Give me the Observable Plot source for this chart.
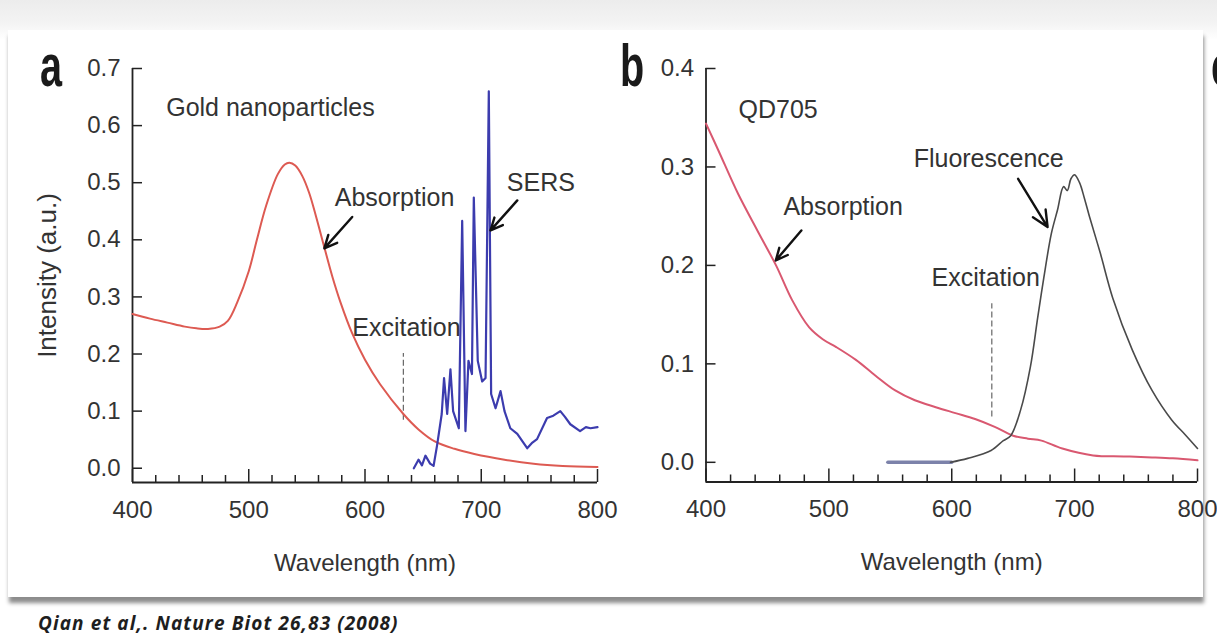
<!DOCTYPE html>
<html>
<head>
<meta charset="utf-8">
<script src="https://cdn.jsdelivr.net/npm/d3@7"></script>
<script src="https://cdn.jsdelivr.net/npm/@observablehq/plot@0.6"></script>
<style>
html,body{margin:0;padding:0;}
body{width:1217px;height:637px;position:relative;overflow:hidden;background:linear-gradient(to bottom,#ececec 0px,#f3f3f3 22px,#ffffff 40px);font-family:"Liberation Sans",Arial,sans-serif;}
#card{position:absolute;left:8px;top:30px;width:1195px;height:567px;background:#fff;box-shadow:1px 6px 4px rgba(0,0,0,0.45);}
.panel{position:absolute;top:0;}
.lab{position:absolute;top:36px;font-family:"Liberation Sans",Arial,sans-serif;font-weight:bold;font-size:60px;line-height:1;transform-origin:left top;transform:scaleX(0.66);color:#1a1a1a;}
#caption{position:absolute;left:38px;top:613px;font-family:"Open Sans",sans-serif;font-weight:700;font-style:italic;font-size:19px;letter-spacing:1.1px;line-height:1.1;color:#1e1e1e;white-space:nowrap;}
</style>
</head>
<body>
<div id="card"></div>
<div id="panelA" class="panel" style="left:0px"></div>
<div id="panelB" class="panel" style="left:620px"></div>
<div class="lab" style="left:40px">a</div>
<div class="lab" style="left:620px">b</div>
<div class="lab" style="left:1211px">c</div>
<div id="caption">Qian et al,. Nature Biot 26,83 (2008)</div>
<script>
// ---------- shared axis data ----------
const xDomain = [400, 800];
const xMajorTicks = [400, 500, 600, 700, 800];
const xMinorTicks = [420, 440, 460, 480, 520, 540, 560, 580, 620, 640, 660, 680, 720, 740, 760, 780];
const xLabel = "Wavelength (nm)";

// ---------- panel a ----------
const yDomainA = [-0.025, 0.7];
const yTicksA = [0, 0.1, 0.2, 0.3, 0.4, 0.5, 0.6, 0.7];
const yLabelA = "Intensity (a.u.)";

const absA_nm = [400, 415, 430, 445, 455, 465, 475, 482, 490, 500, 507, 515, 525, 531, 535, 540, 546, 552, 558, 565, 572, 579, 589, 600, 613, 633, 646, 660, 677, 694, 720, 745, 770, 800];
const absA_val = [0.27, 0.262, 0.255, 0.248, 0.245, 0.244, 0.248, 0.258, 0.29, 0.345, 0.40, 0.46, 0.515, 0.532, 0.535, 0.53, 0.512, 0.482, 0.44, 0.387, 0.335, 0.29, 0.236, 0.19, 0.147, 0.095, 0.068, 0.047, 0.034, 0.025, 0.015, 0.008, 0.004, 0.002];

const sers_nm = [642, 646, 649, 652, 656, 659, 662, 666, 668, 670.7, 673.5, 675.8, 680.7, 683.6, 686.4, 689, 692, 693.6, 697, 700.8, 703.7, 706.5, 708.5, 712.3, 716.6, 720, 725, 731, 739.5, 744, 748, 756.6, 762, 768, 772, 776.6, 785, 790, 794, 800];
const sers_val = [0, 0.015, 0.005, 0.022, 0.008, 0.004, 0.04, 0.095, 0.158, 0.095, 0.173, 0.1, 0.07, 0.433, 0.065, 0.188, 0.165, 0.474, 0.188, 0.152, 0.158, 0.66, 0.13, 0.105, 0.135, 0.1, 0.07, 0.06, 0.035, 0.045, 0.051, 0.088, 0.092, 0.1, 0.09, 0.077, 0.065, 0.072, 0.07, 0.072];

const notesA_text = ["Gold nanoparticles", "Absorption", "SERS", "Excitation"];
const notesA_x = [429, 574, 722, 589];
const notesA_y = [0.63, 0.474, 0.499, 0.245];

const arrowsA_x1 = [589, 731];
const arrowsA_y1 = [0.44, 0.469];
const arrowsA_x2 = [565, 708];
const arrowsA_y2 = [0.385, 0.4165];

const excA_nm = [633];
const excA_y1 = [0.084];
const excA_y2 = [0.201];

// ---------- panel b ----------
const yDomainB = [-0.02, 0.4];
const yTicksB = [0, 0.1, 0.2, 0.3, 0.4];

const absB_nm = [400, 410, 426, 442, 457, 470, 484, 495, 506, 522, 538, 554, 570, 587, 603, 619, 635, 650, 662, 673, 690, 715, 740, 763, 780, 800];
const absB_val = [0.344, 0.317, 0.273, 0.235, 0.2, 0.165, 0.137, 0.125, 0.117, 0.104, 0.088, 0.073, 0.063, 0.056, 0.05, 0.044, 0.036, 0.027, 0.024, 0.022, 0.014, 0.007, 0.006, 0.005, 0.004, 0.002];

const fluorFlat_nm = [548, 600];
const fluorFlat_val = [0, 0];

const fluor_nm = [599, 613, 632, 642, 648, 656, 664, 670, 675, 681, 686, 691, 694, 697, 700, 704, 708, 712, 721, 731, 747, 763, 779, 790, 800];
const fluor_val = [0.0, 0.004, 0.012, 0.022, 0.027, 0.053, 0.097, 0.1475, 0.188, 0.232, 0.256, 0.28, 0.276, 0.288, 0.292, 0.284, 0.268, 0.25, 0.212, 0.167, 0.114, 0.073, 0.043, 0.028, 0.014];

const notesB_text = ["QD705", "Absorption", "Fluorescence", "Excitation"];
const notesB_x = [426.5, 463, 569, 583.5];
const notesB_y = [0.358, 0.259, 0.3076, 0.187];

const arrowsB_x1 = [477.6, 654];
const arrowsB_y1 = [0.2355, 0.288];
const arrowsB_x2 = [456.8, 678];
const arrowsB_y2 = [0.205, 0.239];

const excB_nm = [632.6];
const excB_y1 = [0.046];
const excB_y2 = [0.161];

// ---------- helpers ----------
const zip = (xs, ys) => xs.map((x, i) => ({x, y: ys[i]}));
const zipText = (ts, xs, ys) => ts.map((t, i) => ({t, x: xs[i], y: ys[i]}));
const zipArrows = (x1, y1, x2, y2) => x1.map((d, i) => ({x1: d, y1: y1[i], x2: x2[i], y2: y2[i]}));
const zipRules = (x, y1, y2) => x.map((d, i) => ({x: d, y1: y1[i], y2: y2[i]}));

const FONT = "Liberation Sans, Arial, sans-serif";
const INK = "#222";
const TXT = "#333";

function axesMarks(yDomain, yTicks, yLabel) {
  const m = [
    Plot.ruleX([xDomain[0]], {stroke: INK, strokeWidth: 1.8}),
    Plot.ruleY([yDomain[0]], {stroke: INK, strokeWidth: 1.8}),
    Plot.axisX(xMinorTicks, {tickSize: -7, tickFormat: () => "", label: null, stroke: INK, strokeWidth: 1.5}),
    Plot.axisX(xMajorTicks, {tickSize: -13, tickPadding: 31, tickFormat: d3.format("d"), fontSize: 24, fill: TXT, stroke: INK, strokeWidth: 1.5, label: xLabel, labelAnchor: "center", labelOffset: 88, labelArrow: "none"}),
    Plot.axisY(yTicks, {tickSize: -10, tickPadding: 22, tickFormat: d3.format(".1f"), fontSize: 24, fill: TXT, stroke: INK, strokeWidth: 1.5, label: null})
  ];
  if (yLabel) {
    m.push(Plot.axisY([], {label: yLabel, labelAnchor: "center", labelOffset: 95, labelArrow: "none", fontSize: 26, fill: TXT}));
  }
  return m;
}

// ---------- panel a plot ----------
const plotA = Plot.plot({
  width: 620, height: 600,
  marginLeft: 132, marginRight: 23, marginTop: 68, marginBottom: 118,
  style: {background: "transparent", fontFamily: FONT, color: TXT, overflow: "visible"},
  x: {domain: xDomain},
  y: {domain: yDomainA},
  marks: [
    ...axesMarks(yDomainA, yTicksA, yLabelA),
    Plot.ruleX(zipRules(excA_nm, excA_y1, excA_y2), {x: "x", y1: "y1", y2: "y2", stroke: "#666", strokeWidth: 1.2, strokeDasharray: "6,3"}),
    Plot.line(zip(absA_nm, absA_val), {x: "x", y: "y", stroke: "#dd5a52", strokeWidth: 2, curve: "catmull-rom"}),
    Plot.line(zip(sers_nm, sers_val), {x: "x", y: "y", stroke: "#3c3cae", strokeWidth: 2.2, curve: "linear"}),
    Plot.arrow(zipArrows(arrowsA_x1, arrowsA_y1, arrowsA_x2, arrowsA_y2), {x1: "x1", y1: "y1", x2: "x2", y2: "y2", stroke: "#111", strokeWidth: 2.4, headLength: 11, headAngle: 50}),
    Plot.text(zipText(notesA_text, notesA_x, notesA_y), {x: "x", y: "y", text: "t", textAnchor: "start", fontSize: 25, fill: TXT})
  ]
});
document.getElementById("panelA").appendChild(plotA);

// ---------- panel b plot ----------
const plotB = Plot.plot({
  width: 597, height: 600,
  marginLeft: 85.5, marginRight: 20, marginTop: 68, marginBottom: 118.5,
  style: {background: "transparent", fontFamily: FONT, color: TXT, overflow: "visible"},
  x: {domain: xDomain},
  y: {domain: yDomainB},
  marks: [
    ...axesMarks(yDomainB, yTicksB, null),
    Plot.ruleX(zipRules(excB_nm, excB_y1, excB_y2), {x: "x", y1: "y1", y2: "y2", stroke: "#666", strokeWidth: 1.2, strokeDasharray: "6,3"}),
    Plot.line(zip(absB_nm, absB_val), {x: "x", y: "y", stroke: "#d95870", strokeWidth: 2, curve: "catmull-rom"}),
    Plot.line(zip(fluorFlat_nm, fluorFlat_val), {x: "x", y: "y", stroke: "#7c82aa", strokeWidth: 3.5}),
    Plot.line(zip(fluor_nm, fluor_val), {x: "x", y: "y", stroke: "#4a4a4a", strokeWidth: 1.6, curve: "catmull-rom"}),
    Plot.arrow(zipArrows(arrowsB_x1, arrowsB_y1, arrowsB_x2, arrowsB_y2), {x1: "x1", y1: "y1", x2: "x2", y2: "y2", stroke: "#111", strokeWidth: 2.4, headLength: 11, headAngle: 50}),
    Plot.text(zipText(notesB_text, notesB_x, notesB_y), {x: "x", y: "y", text: "t", textAnchor: "start", fontSize: 25, fill: TXT})
  ]
});
document.getElementById("panelB").appendChild(plotB);
</script>
</body>
</html>
